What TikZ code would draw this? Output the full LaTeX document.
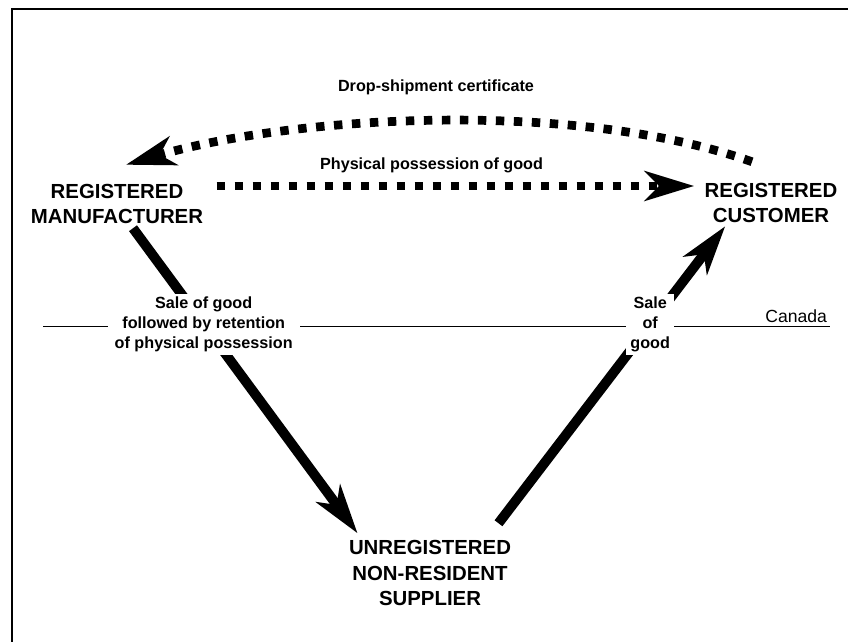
\documentclass[tikz,border=0pt]{standalone}
\usepackage{fontspec}
\setmainfont{Liberation Sans}
\usepackage{tikz}
\usetikzlibrary{arrows.meta,calc,positioning}
\tikzset{%
	party/.style     = {font=\fontsize{14.5}{17.8}\selectfont\bfseries, align=center, inner sep=3pt},
	note/.style      = {font=\fontsize{11.5}{14.2}\selectfont\bfseries, align=center, inner sep=2pt},
	salenote/.style  = {note, fill=white, inner xsep=5pt},
	bigtip/.style    = {-{Stealth[length=35pt,width=21pt,inset=10pt]}},
	dotarrow/.style  = {bigtip, line width=6.2pt, dash pattern=on 6pt off 6.8pt},
	salearrow/.style = {bigtip, line width=7pt},
}

\begin{document}
\begin{tikzpicture}[x=0.025cm,y=-0.025cm]
			\useasboundingbox (0,0) rectangle (848,642);
			\draw[line width=2.1pt] (12,642) -- (12,9) -- (848,9);
			\node[party] (mfr) at (117,204) {REGISTERED\\MANUFACTURER};
			\node[party] (cust) at (771,203) {REGISTERED\\CUSTOMER};
			\node[party] (sup) at (430,573) {UNREGISTERED\\NON-RESIDENT\\SUPPLIER};
			\coordinate (bw) at (43,326);
			\coordinate (be) at (830,326);
			\draw[thin] (bw) -- (be) node[above left,inner sep=2pt,font=\fontsize{12.5}{14}\selectfont] {Canada};
			\draw[dotarrow] ($(mfr.east)+(9,-18)$) -- ($(cust.west)+(-6,-17)$) node[note,pos=0.45,above=4pt] {Physical possession of good};
			\draw[dotarrow] ($(cust.north)+(-19,-17)$) .. controls +(-175,-62) and +(170,-50) .. ($(mfr.north)+(9,-15)$);
			\node[note] (cert) at (436,87) {Drop-shipment certificate};
			\draw[salearrow] ($(mfr.south)+(16,0)$) -- ($(sup.north west)+(13,-3)$) node[salenote,pos=0.315] {Sale of good\\followed by retention\\of physical possession};
			\draw[salearrow] ($(sup.north east)+(-17,-13)$) -- ($(cust.south west)+(25,-1)$) node[salenote,inner xsep=3pt,pos=0.669] {Sale\\of\\good};
\end{tikzpicture}
\end{document}
